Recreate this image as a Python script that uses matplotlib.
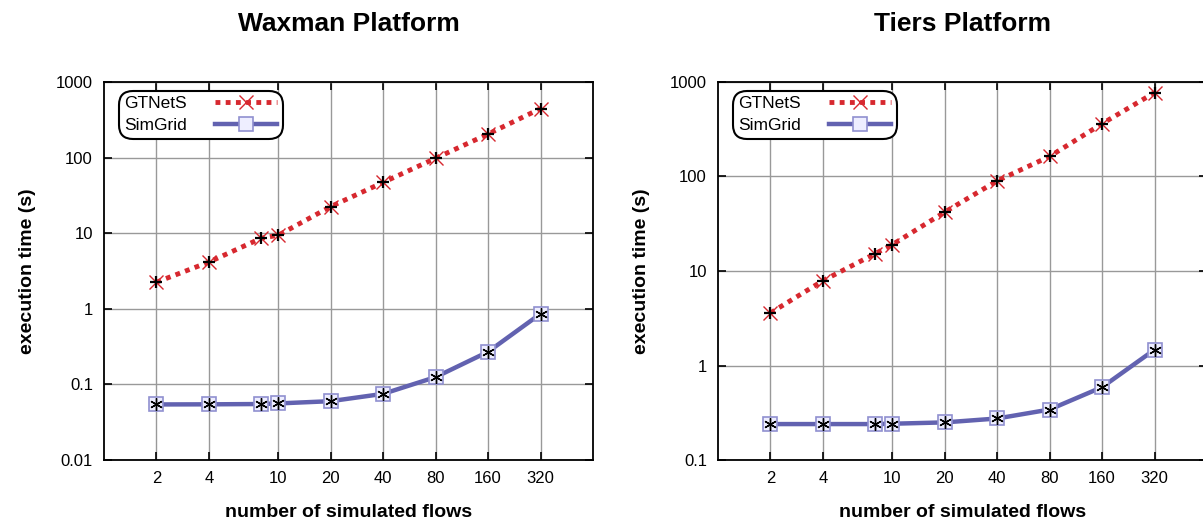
import matplotlib
matplotlib.use("Agg")
import matplotlib.pyplot as plt
from matplotlib.ticker import FixedLocator, FixedFormatter, NullLocator

plt.rcParams['font.family'] = ['Liberation Sans', 'DejaVu Sans']

flows = [2, 4, 8, 10, 20, 40, 80, 160, 320]
xtick_vals = [2, 4, 10, 20, 40, 80, 160, 320]
xtick_labels = ["2", "4", "10", "20", "40", "80", "160", "320"]

waxman_gtnets = [2.25, 4.15, 8.6, 9.4, 22.5, 47, 98, 205, 445]
waxman_simgrid = [0.0543, 0.0545, 0.055, 0.056, 0.060, 0.075, 0.125, 0.27, 0.86]
tiers_gtnets = [3.6, 7.9, 15.3, 19.0, 42, 90, 163, 362, 772]
tiers_simgrid = [0.24, 0.24, 0.24, 0.242, 0.25, 0.275, 0.342, 0.59, 1.47]

left_yticks = [0.01, 0.1, 1, 10, 100, 1000]
left_ylabels = ["0.01", "0.1", "1", "10", "100", "1000"]
right_yticks = [0.1, 1, 10, 100, 1000]
right_ylabels = ["0.1", "1", "10", "100", "1000"]

W, H = 1203, 521
fig = plt.figure(figsize=(W / 100, H / 100), dpi=100)

red = '#d7282f'
blue = '#6262b0'

def make_axes(left_px, title, gt, sg, yticks, ylabels, ylim):
    ax = fig.add_axes([left_px / W, 1 - 460 / H, 489 / W, 378 / H])
    ax.set_xscale('log')
    ax.set_yscale('log')
    ax.set_xlim(1, 640)
    ax.set_ylim(*ylim)
    ax.xaxis.set_major_locator(FixedLocator(xtick_vals))
    ax.xaxis.set_major_formatter(FixedFormatter(xtick_labels))
    ax.xaxis.set_minor_locator(NullLocator())
    ax.yaxis.set_major_locator(FixedLocator(yticks))
    ax.yaxis.set_major_formatter(FixedFormatter(ylabels))
    ax.yaxis.set_minor_locator(NullLocator())
    ax.grid(True, color='#999999', linewidth=1.0)
    ax.set_axisbelow(True)
    ax.tick_params(direction='in', length=6, width=1.2, top=True, right=True,
                   labelsize=12, pad=8, color='black')
    for s in ax.spines.values():
        s.set_linewidth(1.3)
    ax.plot(flows, gt, color=red, linestyle=(0, (1, 1.1)), linewidth=3.5,
            marker='x', markersize=10, markeredgewidth=1.0, markeredgecolor=red,
            label='GTNetS', zorder=3)
    ax.plot(flows, gt, linestyle='none', marker='+', markersize=9,
            markeredgewidth=1.6, color='black', zorder=4)
    ax.plot(flows, sg, color=blue, linewidth=3.2,
            marker='s', markersize=10, markerfacecolor='#eeeeff',
            markeredgecolor='#9090d0', markeredgewidth=1.2,
            label='SimGrid', zorder=3)
    ax.plot(flows, sg, linestyle='none', marker=(6, 2, 0), markersize=9,
            markeredgewidth=1.0, color='black', zorder=4)
    ax.set_title(title, fontsize=19, fontweight='bold', pad=37)
    ax.set_xlabel('number of simulated flows', fontsize=14, fontweight='bold', labelpad=13)
    ax.set_ylabel('execution time (s)', fontsize=14, fontweight='bold', labelpad=14)
    leg = ax.legend(loc='upper left', bbox_to_anchor=(0.04, 0.965), borderaxespad=0,
                    markerfirst=False, fontsize=12.5, handlelength=3.6, labelspacing=0.4,
                    borderpad=0.05, handletextpad=1.6, fancybox=True, framealpha=1,
                    edgecolor='black')
    leg.get_frame().set_linewidth(1.5)
    leg.get_frame().set_boxstyle('round,pad=0.25,rounding_size=0.8')
    return ax

make_axes(104, 'Waxman Platform', waxman_gtnets, waxman_simgrid,
          left_yticks, left_ylabels, (0.01, 1000))
make_axes(718, 'Tiers Platform', tiers_gtnets, tiers_simgrid,
          right_yticks, right_ylabels, (0.1, 1000))

fig.savefig('out.png', dpi=100)
